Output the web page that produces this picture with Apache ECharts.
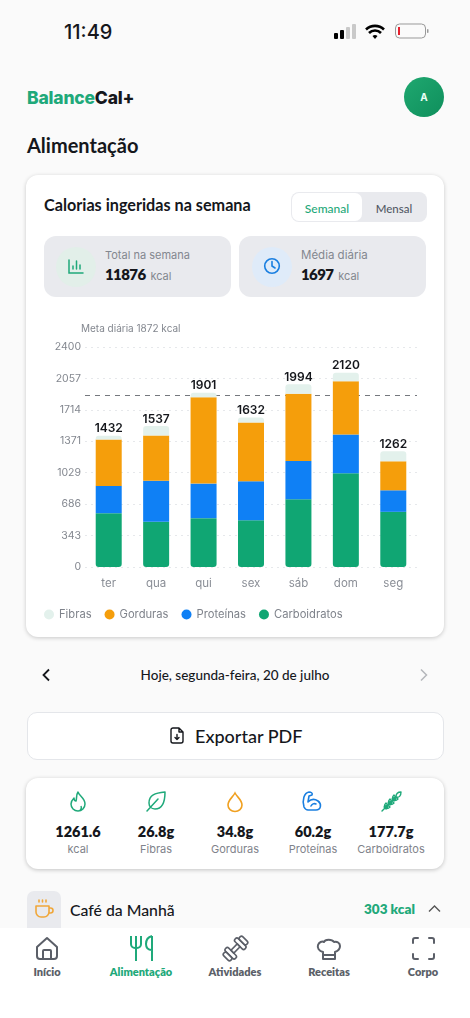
<!DOCTYPE html>
<html lang="pt"><head><meta charset="utf-8">
<script src="https://cdn.jsdelivr.net/npm/echarts@6/dist/echarts.min.js"></script>
<style>
html,body{margin:0;padding:0;width:470px;height:1018px;overflow:hidden;background:#fafafa;font-family:Lato,sans-serif;color:#15171c}
.t{position:absolute;white-space:nowrap;line-height:1;transform:translateY(-50%)}
.c{transform:translate(-50%,-50%)}
.b{position:absolute;box-sizing:border-box}
svg{position:absolute;overflow:visible}
</style></head><body>
<!-- status bar -->
<div class="t" style="left:64px;top:32px;font:500 20px Inter,sans-serif">11:49</div>
<svg style="left:333px;top:23px" width="100" height="18">
 <rect x="1" y="10" width="4" height="6" rx="1" fill="#000"/><rect x="7" y="7" width="4" height="9" rx="1" fill="#000"/>
 <rect x="13" y="4" width="4" height="12" rx="1" fill="#c9c9c9"/><rect x="19" y="1" width="4" height="15" rx="1" fill="#c9c9c9"/>
 <path d="M33 6.500a13 13 0 0 1 18 0M36 10a8.500 8.500 0 0 1 12 0" fill="none" stroke="#000" stroke-width="2.600"/><path d="M39.500 13a4 4 0 0 1 5 0L42 16z" fill="#000"/>
 <rect x="62.500" y="1" width="30" height="14" rx="4" fill="none" stroke="#999" stroke-width="1"/><rect x="65" y="4" width="2" height="8" fill="#e5202e"/><rect x="94" y="6" width="1.500" height="4" rx=".7" fill="#999"/>
</svg>
<!-- header -->
<div class="t" style="left:27px;top:97px;font:800 17.500px Inter,sans-serif;letter-spacing:-.2px"><span style="color:#1fa97a">Balance</span>Cal+</div>
<div class="b" style="left:404px;top:77px;width:40px;height:40px;border-radius:50%;background:linear-gradient(135deg,#1fa870,#0f8f5c)"></div>
<div class="t c" style="left:424px;top:97px;font:700 10px Inter,sans-serif;color:#eafff5">A</div>
<div class="t" style="left:27px;top:145px;font:700 20px Lato,sans-serif">Alimentação</div>
<!-- chart card -->
<div class="b" style="left:26px;top:175px;width:418px;height:462px;background:#fff;border-radius:12px;box-shadow:0 1px 4px rgba(0,0,0,.2)"></div>
<div class="t" style="left:44px;top:204px;font:700 16.200px Lato,sans-serif">Calorias ingeridas na semana</div>
<div class="b" style="left:291px;top:192px;width:136px;height:30px;background:#e9eaee;border-radius:8px"></div>
<div class="b" style="left:292px;top:193px;width:70px;height:28px;background:#fff;border-radius:7px"></div>
<div class="t c" style="left:327px;top:208px;font:500 12px Lato,sans-serif;color:#1fa97a">Semanal</div>
<div class="t c" style="left:394px;top:208px;font:500 11.500px Lato,sans-serif;color:#555b66">Mensal</div>
<div class="b" style="left:44px;top:236px;width:187px;height:61px;background:#e9eaee;border-radius:12px"></div>
<div class="b" style="left:239px;top:236px;width:187px;height:61px;background:#e9eaee;border-radius:12px"></div>
<div class="b" style="left:56px;top:247px;width:40px;height:40px;border-radius:50%;background:#e2efe9"></div>
<div class="b" style="left:252px;top:247px;width:40px;height:40px;border-radius:50%;background:#dfebf9"></div>
<svg style="left:68px;top:259px" width="16" height="16" fill="none" stroke="#1fa97a" stroke-width="1.500" stroke-linecap="round"><path d="M1 1v13h14M5 10V7M8.500 10V2M12 10V6"/></svg>
<svg style="left:263px;top:257px" width="18" height="18" fill="none" stroke="#1a7fe0" stroke-width="1.600" stroke-linecap="round"><circle cx="9" cy="9" r="7.300"/><path d="M9 4.500V9l3 2"/></svg>
<div class="t" style="left:105px;top:255px;font:400 11px Inter,sans-serif;color:#83878f">Total na semana</div>
<div class="t" style="left:105px;top:274px;font:800 15px Lato,sans-serif;letter-spacing:-.6px">11876 <span style="font:400 11px Inter,sans-serif;letter-spacing:0;color:#83878f;margin-left:2px">kcal</span></div>
<div class="t" style="left:301px;top:255px;font:400 11.500px Inter,sans-serif;color:#83878f">Média diária</div>
<div class="t" style="left:301px;top:274px;font:800 15px Lato,sans-serif;letter-spacing:-.6px">1697 <span style="font:400 11px Inter,sans-serif;letter-spacing:0;color:#83878f;margin-left:2px">kcal</span></div>
<div id="chart" class="b" style="left:27px;top:315px;width:416px;height:315px"></div>
<!-- date nav -->
<svg style="left:41px;top:668px" width="10" height="14" fill="none" stroke="#15171c" stroke-width="1.800"><path d="M8 1.500 2.500 7 8 12.500"/></svg>
<div class="t c" style="left:235px;top:675px;font:500 13.500px Lato,sans-serif">Hoje, segunda-feira, 20 de julho</div>
<svg style="left:419px;top:668px" width="10" height="14" fill="none" stroke="#b5b7bb" stroke-width="1.500"><path d="M2 1.500 7.500 7 2 12.500"/></svg>
<!-- export -->
<div class="b" style="left:27px;top:712px;width:417px;height:48px;background:#fff;border:1px solid #e4e6ea;border-radius:10px"></div>
<svg style="left:170px;top:727px" width="14" height="18" fill="none" stroke="#15171c" stroke-width="1.400" stroke-linejoin="round" stroke-linecap="round"><path d="M9 1H3a2 2 0 0 0-2 2v11a2 2 0 0 0 2 2h8a2 2 0 0 0 2-2V5zM9 1v4h4M7 7.500v5M5 10.500l2 2 2-2"/></svg>
<div class="t" style="left:195px;top:736px;font:500 18px Lato,sans-serif">Exportar PDF</div>
<!-- nutrients -->
<div class="b" style="left:26px;top:778px;width:418px;height:91px;background:#fff;border-radius:12px;box-shadow:0 1px 4px rgba(0,0,0,.22)"></div>
<svg style="left:70px;top:791px" width="16" height="22" fill="none" stroke="#1fa97a" stroke-width="1.500" stroke-linejoin="round"><path d="M8 1c1 4 7 6 7 12a7 7 0 0 1-14 0c0-3 1.500-4.500 3-6 0 2 1 3 2 3 1-3 0-6 2-9zM8 20a3.500 3.500 0 0 0 3-5"/></svg>
<svg style="left:146px;top:791px" width="21" height="21" fill="none" stroke="#1fa97a" stroke-width="1.500" stroke-linejoin="round" stroke-linecap="round"><path d="M19 1C9 2 3 4 3 12c0 3 2 6 6 6 8 0 10-8 10-17zM1 20 12 8"/></svg>
<svg style="left:227px;top:792px" width="16" height="20" fill="none" stroke="#f0a020" stroke-width="1.600"><path d="M8 1c2 4 7 7 7 12a7 6.500 0 0 1-14 0c0-5 5-8 7-12z"/></svg>
<svg style="left:302px;top:791px" width="21" height="21" fill="none" stroke="#1a7fe0" stroke-width="1.600" stroke-linejoin="round" stroke-linecap="round"><path d="M2 16C0 9 2 2 7 1c2 0 4 1 3 3L7 5l-1 6c3-3 7-3 10-1 4 3 3 9-2 9H6c-2 0-3-1-4-3zM9 15c1-2 3-3 5-2"/></svg>
<svg style="left:381px;top:791px" width="21" height="21" fill="none" stroke="#1fa97a" stroke-width="1.400" stroke-linejoin="round" stroke-linecap="round"><path d="M1 20 15 6M20 1c0 4-2 6-5 5 0-3 2-5 5-5zM13 4c2 2 2 4 0 6-2-2-2-4 0-6zM17 8c-2 2-4 2-6 0 2-2 4-2 6 0zM9 8c2 2 2 4 0 6-2-2-2-4 0-6zM13 12c-2 2-4 2-6 0 2-2 4-2 6 0zM5 12c2 2 2 4 0 6-2-2-2-4 0-6zM9 16c-2 2-4 2-6 0 2-2 4-2 6 0z"/></svg>
<div id="nutri"></div>
<!-- meal -->
<div class="b" style="left:27px;top:891px;width:34px;height:37px;background:#e9eaee;border-radius:7px 7px 0 0"></div>
<svg style="left:35px;top:899px" width="20" height="20" fill="none" stroke="#f0a73a" stroke-width="1.600" stroke-linejoin="round" stroke-linecap="round"><path d="M1 7h13v6a5 5 0 0 1-5 5H6a5 5 0 0 1-5-5zM14 9h1.500a2.500 2.500 0 0 1 0 5H14M4 1v2M7.500 1v2M11 1v2"/></svg>
<div class="t" style="left:70px;top:909px;font:500 15.800px Lato,sans-serif">Café da Manhã</div>
<div class="t" style="left:364px;top:909px;font:800 13.500px Lato,sans-serif;color:#1fa97a">303 kcal</div>
<svg style="left:428px;top:904px" width="13" height="9" fill="none" stroke="#555" stroke-width="1.400"><path d="M1 7.500 6.500 2 12 7.500"/></svg>
<!-- bottom nav -->
<div class="b" style="left:0;top:928px;width:470px;height:90px;background:#fff"></div>
<svg style="left:35px;top:936px" width="24" height="25" fill="none" stroke="#5b5f68" stroke-width="2" stroke-linejoin="round"><path d="M2 11 12 2l10 9v9a3 3 0 0 1-3 3H5a3 3 0 0 1-3-3zM8 23v-8a1 1 0 0 1 1-1h6a1 1 0 0 1 1 1v8"/></svg>
<svg style="left:130px;top:936px" width="24" height="26" fill="none" stroke="#1fa97a" stroke-width="2"><path d="M1 0v8a4 4 0 0 0 4 4h2a4 4 0 0 0 4-4V0M6 0v25M22 0v25M22 0c-4 1-6 4-6 8s2 6 6 6"/></svg>
<svg style="left:223px;top:936px" width="25" height="25" fill="none" stroke="#5b5f68" stroke-width="1.600" stroke-linejoin="round">
 <g transform="rotate(-45 12.500 12.500)"><rect x="8" y="10.500" width="9" height="4"/><rect x="3.500" y="5.500" width="4.500" height="14" rx="2"/><rect x="-1" y="7.500" width="4.500" height="10" rx="2"/><rect x="17" y="5.500" width="4.500" height="14" rx="2"/><rect x="21.500" y="7.500" width="4.500" height="10" rx="2"/></g></svg>
<svg style="left:317px;top:937px" width="24" height="24" fill="none" stroke="#5b5f68" stroke-width="2" stroke-linejoin="round"><path d="M6 15C2 14 0 11 1 8c1-3 4-4 6-3 1-3 8-3 10 0 3-1 6 1 6 4s-2 5-5 6v7H6zM6 18h12"/></svg>
<svg style="left:412px;top:937px" width="23" height="23" fill="none" stroke="#5b5f68" stroke-width="2" stroke-linecap="round"><path d="M1 6V3a2 2 0 0 1 2-2h3M17 1h3a2 2 0 0 1 2 2v3M22 17v3a2 2 0 0 1-2 2h-3M6 22H3a2 2 0 0 1-2-2v-3"/></svg>
<div id="navbar"></div>
<script>
const categories = ['ter','qua','qui','sex','sáb','dom','seg'];
const totals = [1432,1537,1901,1632,1994,2120,1262];
const carboidratos = [587,493,533,511,740,1022,602];
const proteinas = [298,449,377,424,416,424,235];
const gorduras = [507,493,942,642,733,580,316];
const fibras = [40,102,49,55,105,94,109];
const metaDiaria = 1872;
const yMax = 2400;
const yTickCount = 7;
const nutrientValues = ['1261.6','26.8g','34.8g','60.2g','177.7g'];
const nutrientLabels = ['kcal','Fibras','Gorduras','Proteínas','Carboidratos'];
const nutrientX = [78,156,235,313,391];
const navLabels = ['Início','Alimentação','Atividades','Receitas','Corpo'];
const navX = [47,141,235,329,423];

document.getElementById('nutri').innerHTML = nutrientValues.map((v,i)=>
 `<div class="t c" style="left:${nutrientX[i]}px;top:831px;font:800 14.500px Lato,sans-serif">${v}</div>`+
 `<div class="t c" style="left:${nutrientX[i]}px;top:849px;font:400 11px Inter,sans-serif;color:#7f838b">${nutrientLabels[i]}</div>`).join('');
document.getElementById('navbar').innerHTML = navLabels.map((v,i)=>
 `<div class="t c" style="left:${navX[i]}px;top:971px;font:800 11px Lato,sans-serif;color:${i==1?'#1fa97a':'#5b5f68'}">${v}</div>`).join('');

const F='Inter, sans-serif';
const chart = echarts.init(document.getElementById('chart'),null,{renderer:'canvas'});
const mk=(name,data,color,extra)=>Object.assign({name,type:'bar',stack:'kcal',z:3,data,barWidth:26,itemStyle:{color}},extra||{});
chart.setOption({
 animation:false,
 grid:{left:58,right:26,top:32,bottom:63},
 legend:{data:['Fibras','Gorduras','Proteínas','Carboidratos'],left:12,top:289,icon:'circle',itemWidth:10,itemHeight:10,itemGap:13,
   textStyle:{color:'#7f838b',fontSize:11.2,fontFamily:F,padding:[0,0,0,0]}},
 xAxis:{type:'category',data:categories,axisTick:{show:false},axisLine:{show:false},
   axisLabel:{color:'#8a8e96',fontSize:11.5,fontFamily:F,margin:9,padding:[2,0,0,0]}},
 yAxis:{type:'value',min:0,max:yMax,interval:yMax/yTickCount,
   name:'Meta diária 1872 kcal',nameLocation:'end',nameGap:13,
   nameTextStyle:{color:'#83878f',fontSize:10,fontFamily:F,align:'left',padding:[0,0,0,-4]},
   axisLine:{show:false},axisTick:{show:false},
   axisLabel:{color:'#83878f',fontSize:10.500,fontFamily:F,margin:4,padding:[4,0,0,0],formatter:v=>String(Math.round(v))},
   splitLine:{lineStyle:{color:'#e6e8eb',type:[2,4],width:1}}},
 series:[
  mk('Carboidratos',carboidratos,'#10a673',{itemStyle:{color:'#10a673',borderRadius:[0,0,3,3]},
    markLine:{silent:true,symbol:'none',label:{show:false},z:1,lineStyle:{color:'#75787e',type:[5,5],width:1},data:[{yAxis:metaDiaria}]}}),
  mk('Proteínas',proteinas,'#0f80f5'),
  mk('Gorduras',gorduras,'#f59e0b'),
  mk('Fibras',fibras,'#e3f1ec',{itemStyle:{color:'#e3f1ec',borderRadius:[3,3,0,0]},
    label:{show:true,position:'top',distance:1,color:'#15171c',fontSize:12,fontWeight:600,fontFamily:F,formatter:p=>String(totals[p.dataIndex])}})
 ]
});
</script>
</body></html>
